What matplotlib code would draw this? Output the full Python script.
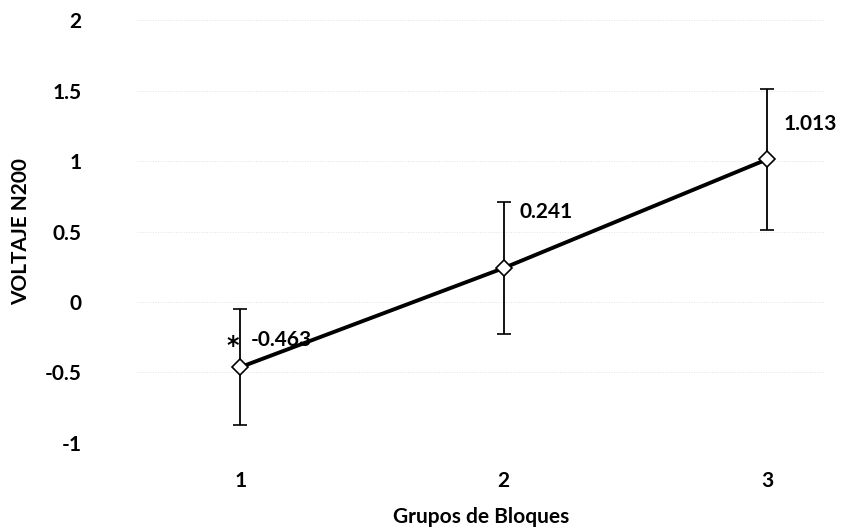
import matplotlib.pyplot as plt

# data
grupos = [1, 2, 3]
voltaje = [-0.463, 0.241, 1.013]
error = [0.41, 0.47, 0.50]
etiquetas = ["-0.463", "0.241", "1.013"]

plt.rcParams['font.family'] = ['Lato', 'DejaVu Sans']
plt.rcParams['font.weight'] = 'bold'

fig = plt.figure(figsize=(8.43, 5.31), dpi=100)
ax = fig.add_axes([0.163, 0.166, 0.816, 0.796])

ax.errorbar(grupos, voltaje, yerr=error, color='black', lw=2.8,
            marker='D', markersize=8, markerfacecolor='white',
            markeredgecolor='black', markeredgewidth=1.2,
            ecolor='black', elinewidth=1.3, capsize=5, capthick=1.3, zorder=3)

offsets = [(0.04, 0.19), (0.06, 0.40), (0.06, 0.25)]
for x, y, lab, (dx, dy) in zip(grupos, voltaje, etiquetas, offsets):
    ax.text(x + dx, y + dy, lab, fontsize=15, fontweight='bold',
            ha='left', va='center')
# significance mark
ax.text(grupos[0] - 0.03, voltaje[0] + 0.15, "*", fontsize=17,
        family='DejaVu Sans', fontweight='bold', ha='center', va='center')

ax.set_xlim(0.61, 3.22)
ax.set_ylim(-1, 2)
ax.set_yticks([-1, -0.5, 0, 0.5, 1, 1.5, 2])
ax.set_yticklabels(["-1", "-0.5", "0", "0.5", "1", "1.5", "2"])
ax.set_xticks(grupos)
ax.set_xticklabels([str(g) for g in grupos])
ax.tick_params(axis='y', length=0, pad=40, labelsize=15)
ax.tick_params(axis='x', length=0, pad=20, labelsize=15)
for s in ax.spines.values():
    s.set_visible(False)
ax.yaxis.grid(True, color='#e2e2e2', linestyle=':', linewidth=0.7)
ax.set_axisbelow(True)

ax.set_ylabel("VOLTAJE N200", fontsize=15, fontweight='bold', labelpad=10)
ax.set_xlabel("Grupos de Bloques", fontsize=15, fontweight='bold', labelpad=12)

fig.savefig("out.png", dpi=100)
